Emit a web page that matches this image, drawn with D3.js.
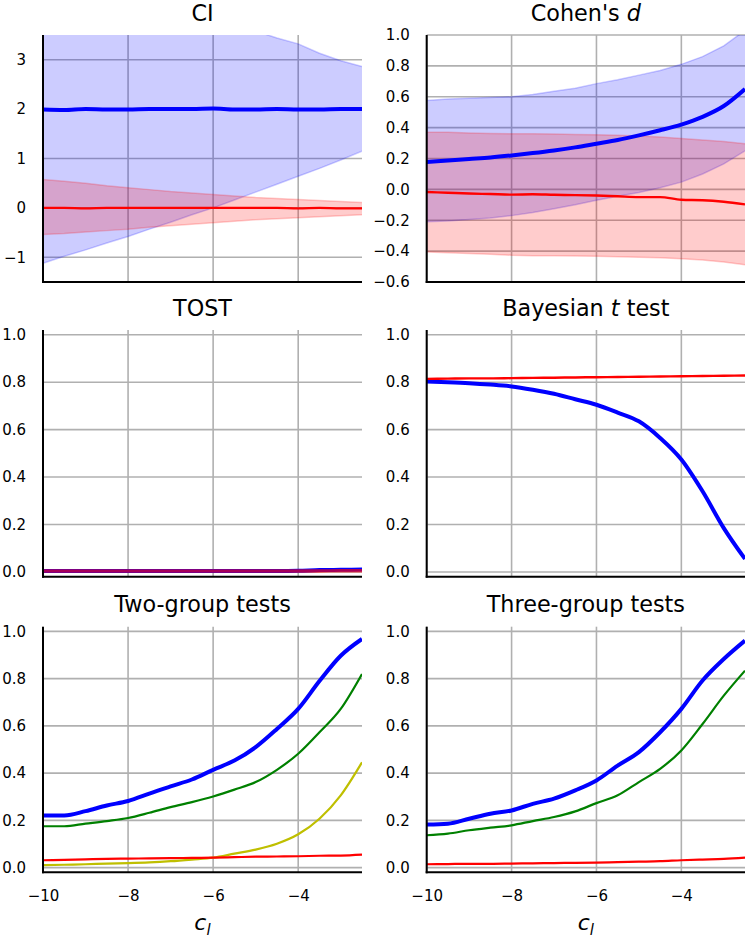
<!DOCTYPE html>
<html>
<head>
<meta charset="utf-8">
<script src="https://cdn.jsdelivr.net/npm/d3@7"></script>
<style>
  html, body { margin: 0; padding: 0; background: #ffffff; }
  svg { display: block; font-family: "DejaVu Sans", sans-serif; }
</style>
</head>
<body>
<script>
// ---------------- DATA ----------------
const cl = [-10, -9.5, -9, -8.5, -8, -7.5, -7, -6.5, -6, -5.5, -5, -4.5, -4, -3.5, -3, -2.5];
const xTickValues = [-10, -8, -6, -4];

// CI panel
const ciBlueMean = [1.99, 1.98, 2.0, 1.99, 1.99, 2.0, 2.0, 2.0, 2.01, 1.99, 1.99, 2.0, 1.99, 1.99, 2.0, 2.0];
const ciBlueLo   = [-1.12, -0.98, -0.85, -0.71, -0.58, -0.43, -0.29, -0.14, 0.0, 0.16, 0.32, 0.48, 0.64, 0.8, 0.97, 1.15];
const ciBlueHi   = [5.1, 4.95, 4.8, 4.65, 4.5, 4.35, 4.2, 4.05, 3.9, 3.75, 3.58, 3.44, 3.32, 3.13, 2.98, 2.86];
const ciRedMean  = [0.0, 0.0, -0.01, 0.0, 0.0, 0.0, 0.0, 0.0, 0.0, 0.0, 0.0, 0.0, -0.01, 0.0, -0.01, -0.01];
const ciRedLo    = [-0.54, -0.52, -0.49, -0.46, -0.43, -0.39, -0.36, -0.33, -0.3, -0.27, -0.24, -0.22, -0.2, -0.18, -0.16, -0.14];
const ciRedHi    = [0.575, 0.54, 0.5, 0.45, 0.41, 0.37, 0.33, 0.3, 0.27, 0.24, 0.21, 0.19, 0.17, 0.15, 0.13, 0.11];
const ciTicks = [-1, 0, 1, 2, 3];

// Cohen's d panel
const dBlueMean = [0.177, 0.187, 0.197, 0.207, 0.22, 0.235, 0.252, 0.272, 0.296, 0.32, 0.35, 0.383, 0.42, 0.47, 0.54, 0.65];
const dBlueLo   = [-0.21, -0.205, -0.195, -0.185, -0.17, -0.15, -0.125, -0.1, -0.07, -0.045, -0.02, 0.01, 0.047, 0.1, 0.165, 0.25];
const dBlueHi   = [0.576, 0.585, 0.59, 0.595, 0.6, 0.615, 0.635, 0.655, 0.685, 0.71, 0.74, 0.77, 0.81, 0.86, 0.93, 1.03];
const dRedMean  = [-0.017, -0.022, -0.027, -0.03, -0.034, -0.032, -0.035, -0.037, -0.04, -0.045, -0.05, -0.05, -0.067, -0.07, -0.08, -0.097];
const dRedLo    = [-0.406, -0.41, -0.415, -0.42, -0.427, -0.43, -0.43, -0.432, -0.434, -0.436, -0.44, -0.443, -0.449, -0.458, -0.47, -0.488];
const dRedHi    = [0.37, 0.37, 0.365, 0.362, 0.36, 0.36, 0.358, 0.356, 0.354, 0.35, 0.345, 0.34, 0.33, 0.32, 0.31, 0.296];
const dTicks = [-0.6, -0.4, -0.2, 0.0, 0.2, 0.4, 0.6, 0.8, 1.0];

// TOST panel
const tostBlue = [0.004, 0.004, 0.004, 0.004, 0.004, 0.004, 0.004, 0.004, 0.004, 0.004, 0.004, 0.004, 0.005, 0.008, 0.009, 0.01];
const tostRed  = [0.004, 0.004, 0.004, 0.004, 0.004, 0.004, 0.004, 0.004, 0.004, 0.004, 0.004, 0.004, 0.004, 0.004, 0.005, 0.005];

// Bayesian t test panel
const bayesBlue = [0.803, 0.8, 0.796, 0.79, 0.782, 0.768, 0.751, 0.728, 0.705, 0.672, 0.635, 0.565, 0.474, 0.34, 0.185, 0.055];
const bayesRed  = [0.814, 0.815, 0.816, 0.816, 0.817, 0.818, 0.819, 0.82, 0.821, 0.822, 0.823, 0.824, 0.825, 0.826, 0.827, 0.828];

// Two-group tests panel
const twoBlue   = [0.221, 0.221, 0.239, 0.263, 0.282, 0.313, 0.344, 0.373, 0.414, 0.453, 0.51, 0.587, 0.672, 0.79, 0.897, 0.968];
const twoGreen  = [0.175, 0.175, 0.186, 0.197, 0.21, 0.232, 0.256, 0.277, 0.301, 0.33, 0.362, 0.414, 0.482, 0.573, 0.672, 0.82];
const twoYellow = [0.01, 0.012, 0.014, 0.017, 0.019, 0.022, 0.027, 0.034, 0.042, 0.059, 0.076, 0.101, 0.141, 0.207, 0.306, 0.446];
const twoRed    = [0.031, 0.033, 0.035, 0.037, 0.038, 0.039, 0.04, 0.041, 0.042, 0.044, 0.046, 0.047, 0.048, 0.05, 0.051, 0.055];

// Three-group tests panel
const threeBlue  = [0.182, 0.186, 0.207, 0.228, 0.242, 0.27, 0.292, 0.327, 0.369, 0.432, 0.489, 0.573, 0.672, 0.792, 0.883, 0.961];
const threeGreen = [0.137, 0.144, 0.158, 0.169, 0.179, 0.197, 0.214, 0.238, 0.273, 0.306, 0.362, 0.418, 0.496, 0.608, 0.728, 0.834];
const threeRed   = [0.014, 0.015, 0.016, 0.016, 0.017, 0.018, 0.019, 0.02, 0.021, 0.023, 0.025, 0.027, 0.031, 0.034, 0.037, 0.042];

const probTicks = [0.0, 0.2, 0.4, 0.6, 0.8, 1.0];
const titles = ["CI", "Cohen's |d", "TOST", "Bayesian |t| test", "Two-group tests", "Three-group tests"];

// ---------------- LAYOUT ----------------
const BLUE = "#0000ff", RED = "#ff0000", GREEN = "#008000", YELLOW = "#bfbf00";
const cols = [{x0: 43, x1: 362}, {x0: 426.7, x1: 745}];
const rows = [{y0: 35, y1: 282, ty: 20.5}, {y0: 330, y1: 576.7, ty: 316}, {y0: 626.7, y1: 872.3, ty: 611.7}];
const probDom = [-0.02, 1.02];
const TICK_FONT = 15;

const panels = [
  {row: 0, col: 0, title: titles[0], yDom: [-1.5, 3.5], ticks: ciTicks, fmt: d3.format("d"),
   bands: [{lo: ciBlueLo, hi: ciBlueHi, color: BLUE}, {lo: ciRedLo, hi: ciRedHi, color: RED}],
   lines: [{v: ciBlueMean, color: BLUE, w: 4}, {v: ciRedMean, color: RED, w: 2.4}]},
  {row: 0, col: 1, title: titles[1], yDom: [-0.6, 1.0], ticks: dTicks, fmt: d3.format(".1f"),
   bands: [{lo: dBlueLo, hi: dBlueHi, color: BLUE}, {lo: dRedLo, hi: dRedHi, color: RED}],
   lines: [{v: dBlueMean, color: BLUE, w: 4}, {v: dRedMean, color: RED, w: 2.4}]},
  {row: 1, col: 0, title: titles[2], yDom: probDom, ticks: probTicks, fmt: d3.format(".1f"),
   bands: [], lines: [{v: tostBlue, color: BLUE, w: 4}, {v: tostRed, color: RED, w: 3.4, op: 0.65}]},
  {row: 1, col: 1, title: titles[3], yDom: probDom, ticks: probTicks, fmt: d3.format(".1f"),
   bands: [], lines: [{v: bayesBlue, color: BLUE, w: 4}, {v: bayesRed, color: RED, w: 2.4}]},
  {row: 2, col: 0, title: titles[4], yDom: probDom, ticks: probTicks, fmt: d3.format(".1f"), xlab: true,
   bands: [], lines: [{v: twoBlue, color: BLUE, w: 4}, {v: twoGreen, color: GREEN, w: 2.2},
                      {v: twoYellow, color: YELLOW, w: 2.2}, {v: twoRed, color: RED, w: 2.2}]},
  {row: 2, col: 1, title: titles[5], yDom: probDom, ticks: probTicks, fmt: d3.format(".1f"), xlab: true,
   bands: [], lines: [{v: threeBlue, color: BLUE, w: 4}, {v: threeGreen, color: GREEN, w: 2.2},
                      {v: threeRed, color: RED, w: 2.2}]}
];

const svg = d3.select("body").append("svg").attr("width", 750).attr("height", 938);

panels.forEach((p, i) => {
  const c = cols[p.col], r = rows[p.row];
  const x = d3.scaleLinear().domain([-10, -2.5]).range([c.x0, c.x1]);
  const y = d3.scaleLinear().domain(p.yDom).range([r.y1, r.y0]);
  const g = svg.append("g");

  // clip
  const clipId = "clip" + i;
  svg.append("clipPath").attr("id", clipId).append("rect")
    .attr("x", c.x0).attr("y", r.y0).attr("width", c.x1 - c.x0).attr("height", r.y1 - r.y0);

  // grid
  g.append("g").selectAll("line").data(p.ticks).join("line")
    .attr("x1", c.x0).attr("x2", c.x1).attr("y1", d => y(d)).attr("y2", d => y(d))
    .attr("stroke", "#b0b0b0").attr("stroke-width", 1.6);
  g.append("g").selectAll("line").data(xTickValues).join("line")
    .attr("x1", d => x(d)).attr("x2", d => x(d)).attr("y1", r.y0).attr("y2", r.y1)
    .attr("stroke", "#b0b0b0").attr("stroke-width", 1.6);

  const plot = g.append("g").attr("clip-path", `url(#${clipId})`);

  // bands
  p.bands.forEach(b => {
    const pts = cl.map((cv, k) => ({c: cv, lo: b.lo[k], hi: b.hi[k]}));
    plot.append("path").datum(pts)
      .attr("d", d3.area().x(d => x(d.c)).y0(d => y(d.lo)).y1(d => y(d.hi)))
      .attr("fill", b.color).attr("fill-opacity", 0.2).attr("stroke", "none");
    ["lo", "hi"].forEach(key => {
      plot.append("path").datum(pts)
        .attr("d", d3.line().x(d => x(d.c)).y(d => y(d[key])))
        .attr("fill", "none").attr("stroke", b.color).attr("stroke-opacity", 0.2).attr("stroke-width", 1.5);
    });
  });

  // lines
  p.lines.forEach(l => {
    const pts = cl.map((cv, k) => ({c: cv, v: l.v[k]}));
    plot.append("path").datum(pts)
      .attr("d", d3.line().x(d => x(d.c)).y(d => y(d.v)).curve(d3.curveMonotoneX))
      .attr("fill", "none").attr("stroke", l.color).attr("stroke-width", l.w)
      .attr("stroke-opacity", l.op || 1).attr("stroke-linejoin", "round").attr("stroke-linecap", "butt");
  });

  // spines
  g.append("line").attr("x1", c.x0).attr("x2", c.x0).attr("y1", r.y0).attr("y2", r.y1 + 1)
    .attr("stroke", "#000").attr("stroke-width", 2);
  g.append("line").attr("x1", c.x0 - 1).attr("x2", c.x1).attr("y1", r.y1).attr("y2", r.y1)
    .attr("stroke", "#000").attr("stroke-width", 2);

  // y axis
  const ya = g.append("g").attr("transform", `translate(${c.x0},0)`)
    .call(d3.axisLeft(y).tickValues(p.ticks).tickFormat(p.fmt).tickSize(0).tickPadding(17));
  ya.select(".domain").remove();
  ya.attr("font-size", TICK_FONT).attr("font-family", "DejaVu Sans");
  ya.selectAll("text").attr("fill", "#000");

  // x axis (bottom row)
  if (p.xlab) {
    const xa = g.append("g").attr("transform", `translate(0,${r.y1})`)
      .call(d3.axisBottom(x).tickValues(xTickValues).tickFormat(d3.format("d")).tickSize(0).tickPadding(18));
    xa.select(".domain").remove();
    xa.attr("font-size", TICK_FONT).attr("font-family", "DejaVu Sans");
    xa.selectAll("text").attr("fill", "#000");
    const lab = g.append("text").attr("x", (c.x0 + c.x1) / 2).attr("y", 930)
      .attr("text-anchor", "middle").attr("font-size", 22).attr("fill", "#000");
    lab.append("tspan").attr("font-style", "italic").text("c");
    lab.append("tspan").attr("font-style", "italic").attr("font-size", 15).attr("dy", 5).text("l");
  }

  // title (segments separated by "|" alternate normal / italic)
  const t = g.append("text").attr("x", (c.x0 + c.x1) / 2).attr("y", r.ty)
    .attr("text-anchor", "middle").attr("font-size", 22.3).attr("fill", "#000");
  p.title.split("|").forEach((seg, k) => {
    if (seg.length) t.append("tspan").attr("font-style", k % 2 ? "italic" : "normal").text(seg);
  });
});
</script>
</body>
</html>
